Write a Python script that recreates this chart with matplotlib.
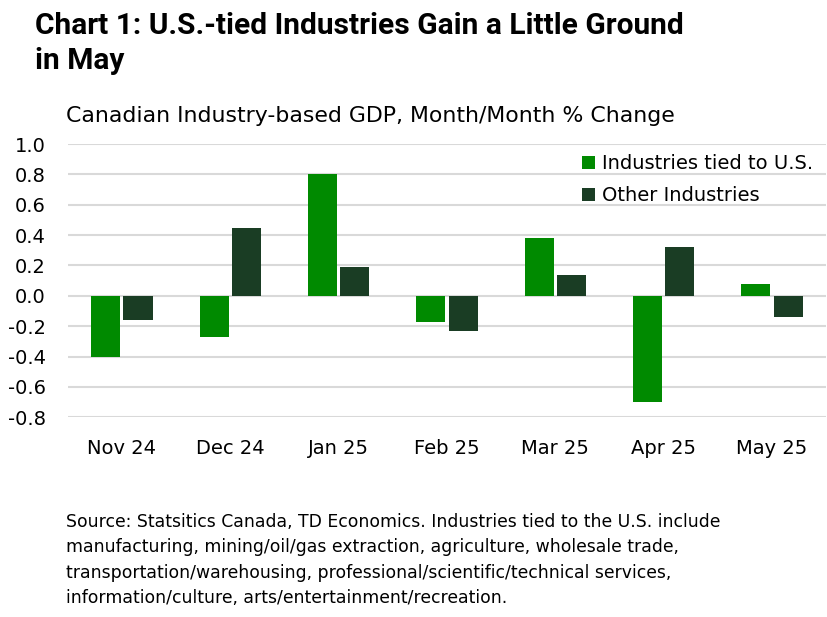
import matplotlib
matplotlib.use("Agg")
import matplotlib.pyplot as plt
import numpy as np

categories = ["Nov 24", "Dec 24", "Jan 25", "Feb 25", "Mar 25", "Apr 25", "May 25"]
us_tied = [-0.40, -0.27, 0.80, -0.17, 0.38, -0.70, 0.08]
other = [-0.16, 0.45, 0.19, -0.23, 0.14, 0.32, -0.14]
yticks = [-0.8, -0.6, -0.4, -0.2, 0.0, 0.2, 0.4, 0.6, 0.8, 1.0]

GREEN = "#008A00"
DARK = "#1A3D24"
BODY = ["DejaVu Sans"]
plt.rcParams["font.family"] = BODY

fig = plt.figure(figsize=(8.27, 6.17), dpi=100)
ax = fig.add_axes([0.082, 0.3237, 0.917, 0.4429])

x = np.arange(len(categories))
w = 0.268
off = 0.148
ax.bar(x - off, us_tied, w, color=GREEN, label="Industries tied to U.S.", zorder=3)
ax.bar(x + off, other, w, color=DARK, label="Other Industries", zorder=3)

ax.set_xlim(-0.5, len(categories) - 0.5)
ax.set_ylim(-0.8, 1.0)
ax.set_yticks(yticks)
ax.set_yticklabels([f"{v:.1f}" for v in yticks], fontsize=14)
ax.set_xticks(x)
ax.set_xticklabels(categories, fontsize=14)
ax.tick_params(length=0)
ax.tick_params(axis="y", pad=16)
ax.tick_params(axis="x", pad=16)
ax.grid(axis="y", color="#d9d9d9", linewidth=1.5, zorder=0)
for s in ax.spines.values():
    s.set_visible(False)

leg = ax.legend(loc="upper right", bbox_to_anchor=(0.998, 1.005), frameon=False,
                fontsize=14, handlelength=0.67, handleheight=0.67,
                handletextpad=0.35, labelspacing=0.65, borderaxespad=0.2)

fig.text(35 / 827, 1 - 12 / 617, "Chart 1: U.S.-tied Industries Gain a Little Ground\nin May",
         fontsize=21.5, fontweight="bold", ha="left", va="top",
         linespacing=1.32, family=["Roboto", "DejaVu Sans"])
fig.text(66 / 827, 1 - 116 / 617, "Canadian Industry-based GDP, Month/Month % Change",
         fontsize=15.8, ha="left", va="center")
fig.text(66 / 827, 1 - 513 / 617,
         "Source: Statsitics Canada, TD Economics. Industries tied to the U.S. include\n"
         "manufacturing, mining/oil/gas extraction, agriculture, wholesale trade,\n"
         "transportation/warehousing, professional/scientific/technical services,\n"
         "information/culture, arts/entertainment/recreation.",
         fontsize=12.4, ha="left", va="top", linespacing=1.52)

fig.savefig("out.png", dpi=100)
